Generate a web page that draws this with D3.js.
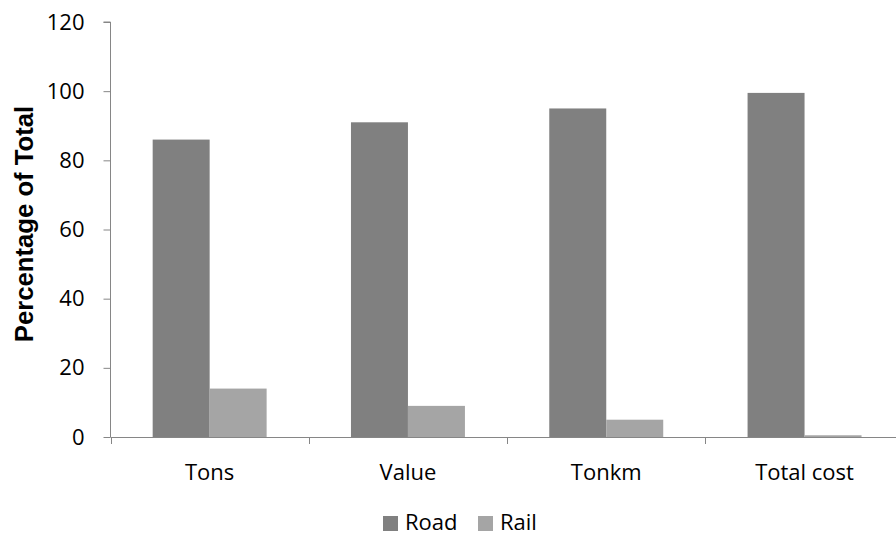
<!DOCTYPE html>
<html>
<head>
<meta charset="utf-8">
<script src="https://cdn.jsdelivr.net/npm/d3@7"></script>
<style>
  html, body { margin: 0; padding: 0; background: #fff; }
  svg { display: block; }
  text { font-family: "Open Sans", sans-serif; fill: #000; }
</style>
</head>
<body>
<svg id="chart" width="896" height="535"></svg>
<script>
// Share of freight by mode, per measure
const categories = ["Tons", "Value", "Tonkm", "Total cost"];
const seriesNames = ["Road", "Rail"];
const roadValues = [86, 91, 95, 99.5];
const railValues = [14, 9, 5, 0.5];
const yTicks = [0, 20, 40, 60, 80, 100, 120];
const colors = { Road: "#808080", Rail: "#a5a5a5" };

const svg = d3.select("#chart");
const axisColor = "#868686";

const y = d3.scaleLinear().domain([0, 120]).range([437, 22]);
const x0 = d3.scaleBand().domain(categories).range([110.5, 903.7]).paddingInner(0).paddingOuter(0);
const x1 = d3.scaleBand().domain(seriesNames).range([0, x0.bandwidth()]).paddingInner(0).paddingOuter(0.74);

const rows = categories.map((c, i) => ({ category: c, Road: roadValues[i], Rail: railValues[i] }));

// bars
const groups = svg.append("g").selectAll("g")
  .data(rows).join("g")
  .attr("transform", d => `translate(${x0(d.category)},0)`);

groups.selectAll("rect")
  .data(d => seriesNames.map(s => ({ key: s, value: d[s] })))
  .join("rect")
  .attr("x", d => x1(d.key))
  .attr("width", x1.bandwidth())
  .attr("y", d => y(d.value))
  .attr("height", d => y(0) - y(d.value))
  .attr("fill", d => colors[d.key]);

// y axis
const yAxis = svg.append("g")
  .attr("transform", "translate(110.5,0)")
  .call(d3.axisLeft(y).tickValues(yTicks).tickSize(7).tickPadding(19).tickFormat(d3.format("d")));
yAxis.select(".domain").attr("stroke", axisColor).attr("d", `M-7,${y(120)}H0V${y(0)}`);
yAxis.selectAll(".tick line").attr("stroke", axisColor);
yAxis.selectAll(".tick text")
  .style("font-family", "'Open Sans', sans-serif")
  .style("font-size", "22px")
  .attr("fill", "#000");

// x axis
const xTickPositions = d3.range(categories.length + 1).map(i => x0.range()[0] + i * x0.step());
const xAxisG = svg.append("g");
xAxisG.append("line")
  .attr("x1", 110.5).attr("x2", 903.7)
  .attr("y1", y(0) + 0.5).attr("y2", y(0) + 0.5)
  .attr("stroke", axisColor);
xAxisG.selectAll("line.tick")
  .data(xTickPositions).join("line")
  .attr("class", "tick")
  .attr("x1", d => Math.round(d) + 0.5).attr("x2", d => Math.round(d) + 0.5)
  .attr("y1", y(0)).attr("y2", y(0) + 7)
  .attr("stroke", axisColor);
xAxisG.selectAll("text")
  .data(categories).join("text")
  .attr("x", d => x0(d) + x0.bandwidth() / 2)
  .attr("y", 480)
  .attr("text-anchor", "middle")
  .style("font-size", "22px")
  .text(d => d);

// y axis title
svg.append("text")
  .attr("transform", "translate(33,224) rotate(-90)")
  .attr("text-anchor", "middle")
  .style("font-family", "'Liberation Sans', Arial, sans-serif")
  .style("font-weight", "bold")
  .style("font-size", "25.7px")
  .text("Percentage of Total");

// legend
const legendItems = [
  { key: "Road", x: 383 },
  { key: "Rail", x: 478 }
];
const legend = svg.append("g");
legend.selectAll("rect")
  .data(legendItems).join("rect")
  .attr("x", d => d.x).attr("y", 516)
  .attr("width", 15).attr("height", 15)
  .attr("fill", d => colors[d.key]);
legend.selectAll("text")
  .data(legendItems).join("text")
  .attr("x", d => d.x + 22).attr("y", 530)
  .style("font-size", "22px")
  .text(d => d.key);
</script>
</body>
</html>
